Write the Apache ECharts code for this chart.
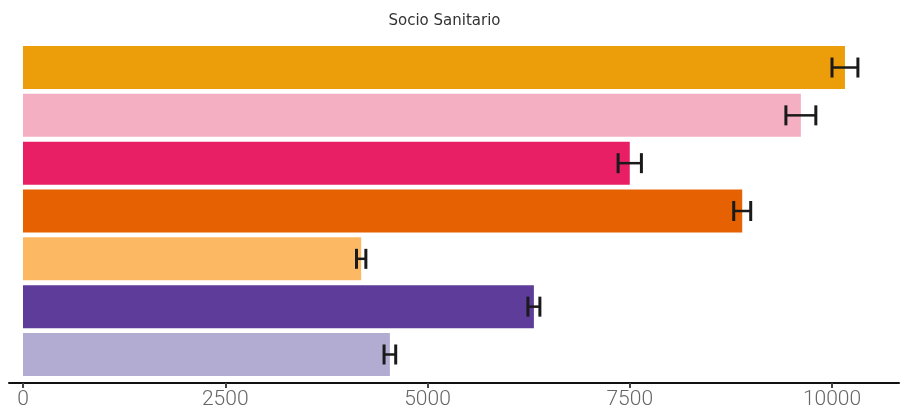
<!DOCTYPE html>
<html>
<head>
<meta charset="utf-8">
<script src="https://cdn.jsdelivr.net/npm/echarts@6/dist/echarts.min.js"></script>
<style>
  html, body { margin: 0; padding: 0; background: #fff; }
  #chart { width: 906px; height: 414px; }
</style>
</head>
<body>
<div id="chart"></div>
<script>
// Sector groups (top to bottom), bar values and their error margins
const categories = ['G1', 'G2', 'G3', 'G4', 'G5', 'G6', 'G7'];
const values = [10160, 9615, 7500, 8890, 4180, 6315, 4535];
const errors = [160, 185, 144, 105, 58, 74, 72];
const barColors = ['#EC9D0A', '#F4AFC2', '#E81F64', '#E66101', '#FDB863', '#5E3C99', '#B2ABD2'];
const tickValues = [0, 2500, 5000, 7500, 10000];

const chart = echarts.init(document.getElementById('chart'), null, { renderer: 'canvas' });

const errorData = values.map((v, i) => [i, v - errors[i], v + errors[i]]);

chart.setOption({
  animation: false,
  title: {
    text: 'Socio Sanitario',
    left: 439.5,
    top: 9,
    textAlign: 'center',
    textStyle: { fontFamily: 'DejaVu Sans', fontSize: 15, fontWeight: 'normal', color: '#333' }
  },
  grid: { left: 9, right: 7, top: 43.6, bottom: 35.6 },
  xAxis: {
    type: 'value',
    min: -173,
    max: 10828,
    offset: 4.5,
    splitLine: { show: false },
    axisLine: { show: true, lineStyle: { color: '#111', width: 2 } },
    axisTick: { show: true, customValues: tickValues, length: 5, lineStyle: { color: '#444', width: 2 } },
    axisLabel: {
      customValues: tickValues,
      formatter: v => String(v),
      margin: 6,
      fontFamily: 'Roboto',
      fontSize: 21,
      fontWeight: 300,
      color: '#666'
    }
  },
  yAxis: {
    type: 'category',
    data: categories,
    inverse: true,
    axisLine: { show: false },
    axisTick: { show: false },
    axisLabel: { show: false }
  },
  series: [
    {
      type: 'bar',
      barWidth: 43,
      data: values.map((v, i) => ({ value: v, itemStyle: { color: barColors[i] } }))
    },
    {
      type: 'custom',
      data: errorData,
      encode: { y: 0, x: [1, 2] },
      renderItem: function (params, api) {
        const idx = api.value(0);
        const lo = api.coord([api.value(1), idx]);
        const hi = api.coord([api.value(2), idx]);
        const y = lo[1];
        const cap = 10;
        const style = { stroke: '#1a1a1a', lineWidth: 3 };
        return {
          type: 'group',
          children: [
            { type: 'line', shape: { x1: lo[0], y1: y, x2: hi[0], y2: y }, style: { stroke: '#1a1a1a', lineWidth: 2.5 } },
            { type: 'line', shape: { x1: lo[0], y1: y - cap, x2: lo[0], y2: y + cap }, style: style },
            { type: 'line', shape: { x1: hi[0], y1: y - cap, x2: hi[0], y2: y + cap }, style: style }
          ]
        };
      },
      z: 10
    }
  ]
});
</script>
</body>
</html>
